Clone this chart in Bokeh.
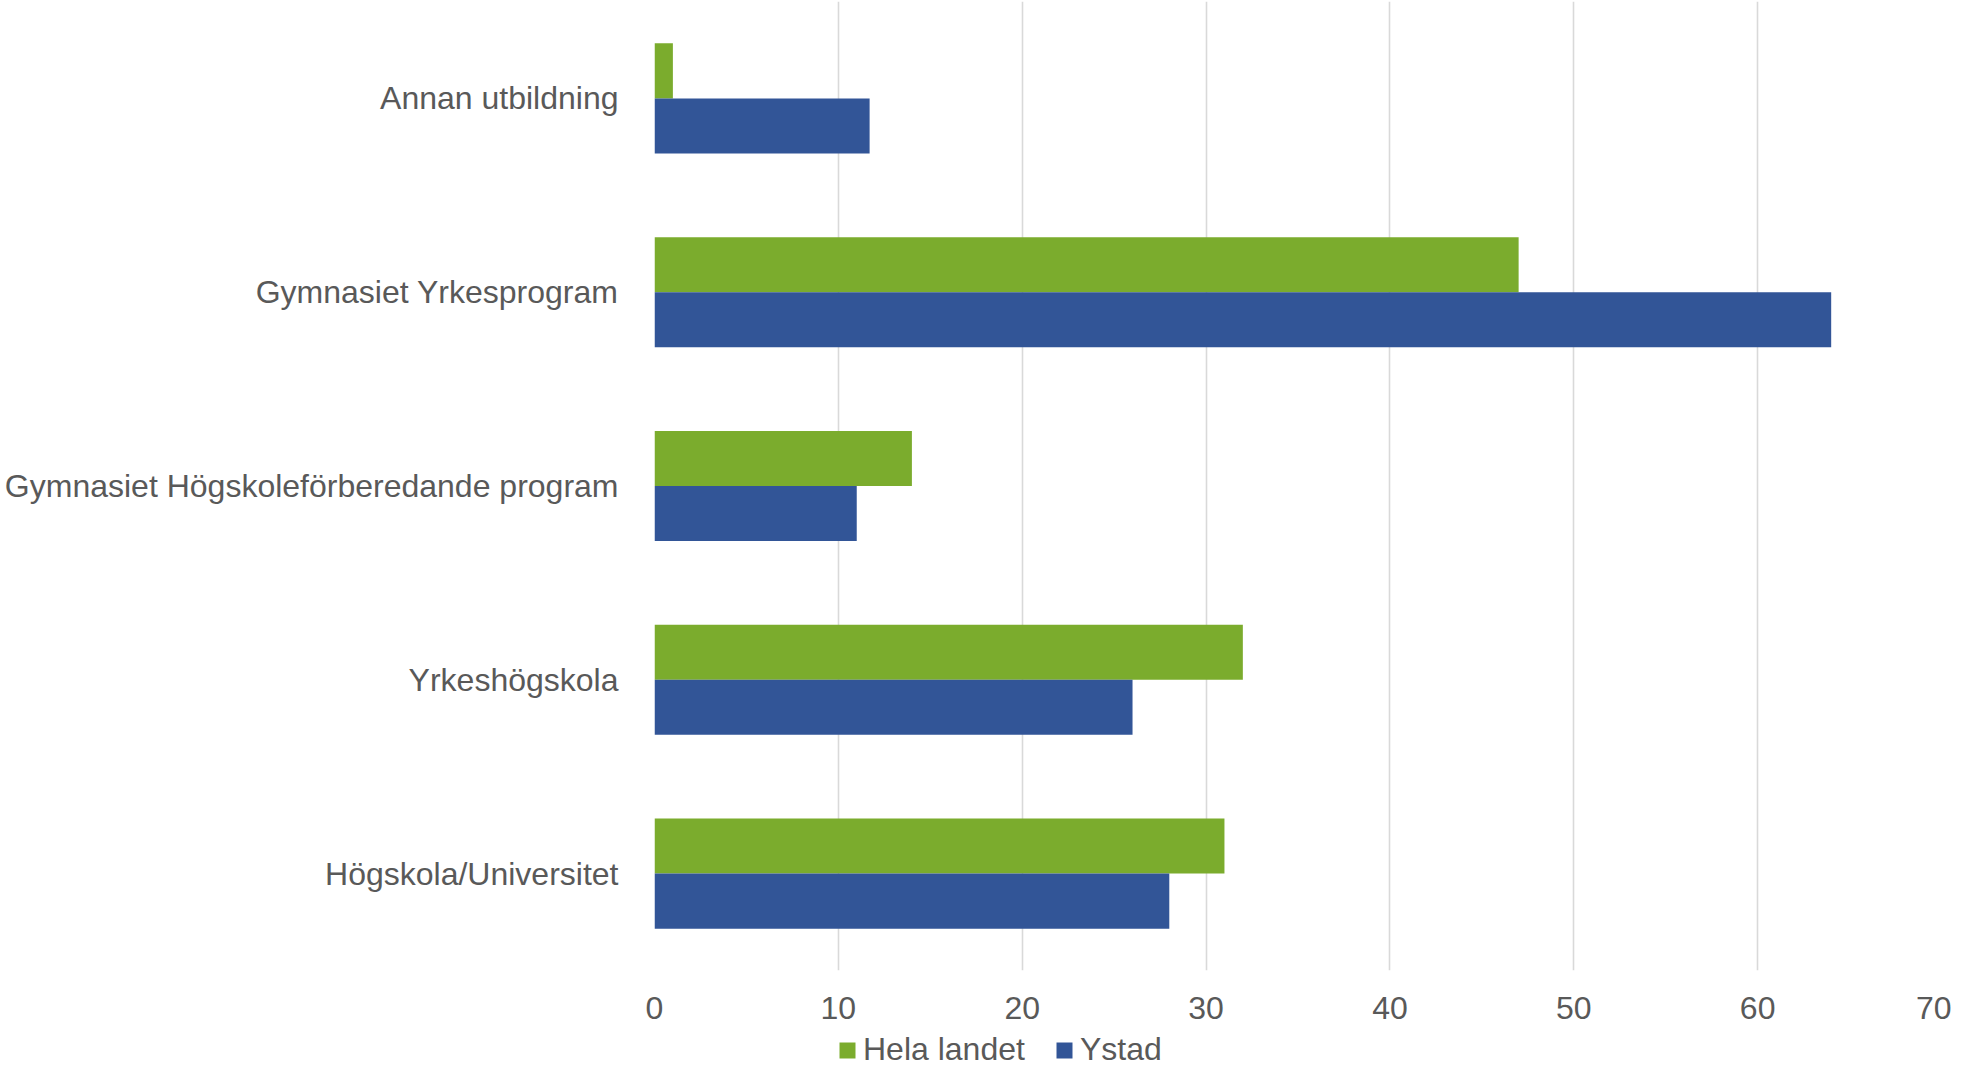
from bokeh.plotting import figure
from bokeh.layouts import column
from bokeh.models import ColumnDataSource, Range1d, FixedTicker, Legend, LegendItem
from bokeh.transform import dodge
from bokeh.embed import file_html
from bokeh.resources import INLINE

categories = ["Annan utbildning", "Gymnasiet Yrkesprogram",
              "Gymnasiet Högskoleförberedande program", "Yrkeshögskola",
              "Högskola/Universitet"]
hela_landet = [1, 47, 14, 32, 31]
ystad = [11.7, 64, 11, 26, 28]
x_ticks = [0, 10, 20, 30, 40, 50, 60, 70]
series_names = ["Hela landet", "Ystad"]

GREEN = "#7BAC2D"
BLUE = "#325597"
TEXT = "#595959"
FONT = "Liberation Sans"

n = len(categories)
ypos = [n - 1 - i for i in range(n)]
src = ColumnDataSource(dict(y=ypos, cat=categories, hela=hela_landet, ystad=ystad))

p = figure(width=1951, height=1030, output_backend="svg", toolbar_location=None,
           x_range=Range1d(0, 70), y_range=Range1d(-0.5, 4.5),
           min_border_left=654, min_border_right=10, min_border_top=1,
           min_border_bottom=60)
p.outline_line_color = None
p.background_fill_color = "white"

bh = 0.284
p.hbar(y=dodge("y", bh / 2, range=p.y_range), right="hela", left=0, height=bh,
       source=src, fill_color=GREEN, line_color=None)
p.hbar(y=dodge("y", -bh / 2, range=p.y_range), right="ystad", left=0, height=bh,
       source=src, fill_color=BLUE, line_color=None)

# x axis
p.xaxis.ticker = FixedTicker(ticks=x_ticks)
p.xaxis.axis_line_color = None
p.xaxis.major_tick_line_color = None
p.xaxis.minor_tick_line_color = None
p.xaxis.major_label_text_font = FONT
p.xaxis.major_label_text_font_size = "32px"
p.xaxis.major_label_text_color = TEXT
p.xaxis.major_label_standoff = 20

# y axis (categories)
p.yaxis.ticker = FixedTicker(ticks=ypos)
p.yaxis.major_label_overrides = {y: c for y, c in zip(ypos, categories)}
p.yaxis.axis_line_color = None
p.yaxis.major_tick_line_color = None
p.yaxis.minor_tick_line_color = None
p.yaxis.major_label_text_font = FONT
p.yaxis.major_label_text_font_size = "32px"
p.yaxis.major_label_text_color = TEXT
p.yaxis.major_label_standoff = 30

p.xgrid.grid_line_color = "#D9D9D9"
p.xgrid.grid_line_width = 1.6
p.ygrid.grid_line_color = None

# legend strip below the chart (its frame is aligned with the chart's frame)
lg = figure(width=1951, height=38, output_backend="svg", toolbar_location=None,
            x_range=Range1d(0, 1), y_range=Range1d(0, 1),
            x_axis_type=None, y_axis_type=None,
            min_border_left=0, min_border_right=0, min_border_top=0,
            min_border_bottom=0)
lg.outline_line_color = None
lg.outline_line_alpha = 0
lg.background_fill_color = None
lg.border_fill_color = None
lg.grid.visible = False
# legend swatches only: one row kept outside the visible range
swatch = ColumnDataSource(dict(y=[-10], right=[0.5]))
g1 = lg.hbar(y="y", right="right", height=0.1, source=swatch, fill_color=GREEN, line_color=None)
g2 = lg.hbar(y="y", right="right", height=0.1, source=swatch, fill_color=BLUE, line_color=None)

legend = Legend(items=[LegendItem(label=series_names[0], renderers=[g1]),
                       LegendItem(label=series_names[1], renderers=[g2])],
                orientation="horizontal", location=(183, 0),
                glyph_width=20, glyph_height=20, label_standoff=6, spacing=29,
                padding=0, margin=0, border_line_color=None,
                background_fill_alpha=0,
                label_text_font=FONT, label_text_font_size="32px",
                label_text_color=TEXT)
lg.add_layout(legend, "center")

open("out.html", "w").write(file_html(column(p, lg, spacing=0), INLINE))
